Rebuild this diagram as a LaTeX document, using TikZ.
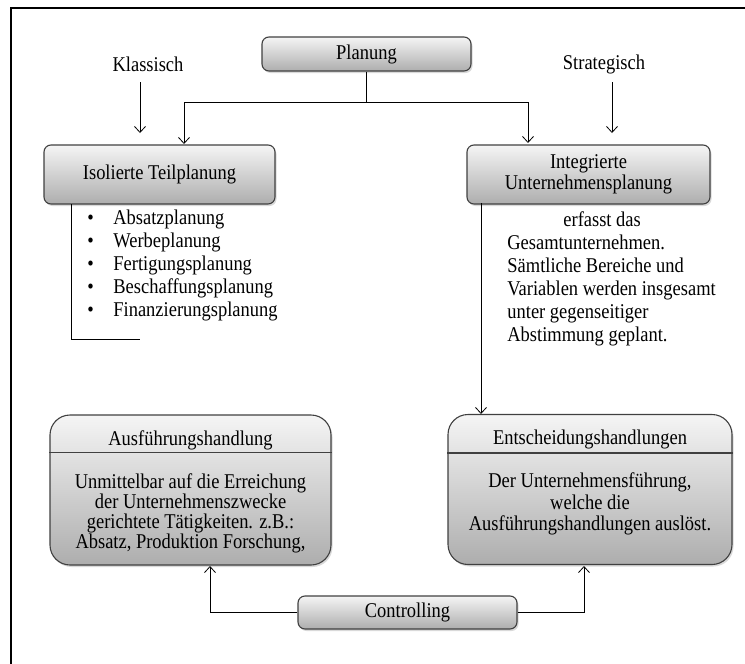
\documentclass[tikz,border=0pt]{standalone}
\usepackage{fontspec}
\setmainfont[FakeStretch=0.88]{Liberation Serif}
\usetikzlibrary{arrows.meta,shadows}

\newcommand{\punkt}{\makebox[26pt][l]{\textbullet}}

\tikzset{
  box/.style={draw=black!75, line width=1.1pt, rounded corners=7pt,
    top color=black!4, bottom color=black!32,
    drop shadow={opacity=0.3, shadow xshift=1.5pt, shadow yshift=-2pt},
    inner sep=0pt, align=center},
  bigbox/.style={box, rounded corners=20pt, minimum height=150pt},
  txt/.style={inner sep=0pt, align=center},
  liste/.style={inner sep=0pt, align=left, anchor=north west},
}

\begin{document}
\begin{tikzpicture}[x=1pt, y=-1pt, line width=0.8pt,
    >={Straight Barb[length=6pt,width=11pt]},
    font=\fontsize{21}{23}\selectfont]
    \useasboundingbox (0,0) rectangle (745,664);
    \draw[line width=2pt] (745,8) -- (11,8) -- (11,664);

    \node[box, minimum width=209pt, minimum height=34pt] (planung) at (366.5,54) {Planung};
    \node[txt] (klass) at (148,64) {Klassisch};
    \node[txt] (strat) at (604,64) {Strategisch};

    \node[box, minimum width=231pt, minimum height=59pt] (teil) at (159.5,174.5) {Isolierte Teilplanung};
    \node[box, minimum width=243pt, minimum height=59pt, font=\fontsize{21}{21}\selectfont] (integ) at (588.5,174.5) {Integrierte\\Unternehmensplanung};

    \node[liste] (teilliste) at (87,210) {\punkt Absatzplanung\\
        \punkt Werbeplanung\\
        \punkt Fertigungsplanung\\
        \punkt Beschaffungsplanung\\
        \punkt Finanzierungsplanung};
    \node[liste] (integtext) at (507,211) {\hspace*{56pt}erfasst das\\Gesamtunternehmen.\\Sämtliche Bereiche und\\Variablen werden insgesamt\\unter gegenseitiger\\Abstimmung geplant.};

    \node[bigbox, minimum width=281pt] (ausf) at (190.5,490) {};
    \node[txt] (ausftitel) at (190.5,440) {Ausführungshandlung};
    \draw[draw=black!75, line width=1.1pt] ([yshift=-38pt]ausf.north west) -- ([yshift=-38pt]ausf.north east);
    \node[txt, font=\fontsize{21}{20}\selectfont] (ausftext) at (190.5,513) {Unmittelbar auf die Erreichung\\der Unternehmenszwecke\\gerichtete Tätigkeiten. z.B.:\\Absatz, Produktion Forschung,};

    \node[bigbox, minimum width=284pt] (ents) at (590,489.5) {};
    \node[txt] (entstitel) at (590,439) {Entscheidungshandlungen};
    \draw[draw=black!75, line width=1.1pt] ([yshift=-39pt]ents.north west) -- ([yshift=-39pt]ents.north east);
    \node[txt, font=\fontsize{21}{21.5}\selectfont] (entstext) at (590,504) {Der Unternehmensführung,\\welche die\\Ausführungshandlungen auslöst.};

    \node[box, minimum width=219pt, minimum height=33pt] (contr) at (407.5,612.5) {Controlling};

    \coordinate (klassab) at (140,82);
    \coordinate (klassan) at (140,133);
    \coordinate (stratab) at (612,82);
    \coordinate (stratan) at (612,133);
    \coordinate (gabel) at (366.5,102);
    \coordinate (teilan) at (184,144);
    \coordinate (integan) at (528,143);
    \coordinate (teilfuss) at (71,204);
    \coordinate (listenende) at (140,339);
    \coordinate (integfuss) at (481,203);
    \coordinate (entsan) at (481,414);
    \coordinate (ausfan) at (210,566);
    \coordinate (entsunten) at (584,566);

    \draw[->] (klassab) to (klassan);
    \draw[->] (stratab) to (stratan);
    \draw (planung) to (gabel);
    \draw[->] (gabel) -| (teilan);
    \draw[->] (gabel) -| (integan);
    \draw (teilfuss) |- (listenende);
    \draw[->] (integfuss) to (entsan);
    \draw[->] (contr.west) -| (ausfan);
    \draw[->] (contr.east) -| (entsunten);
\end{tikzpicture}
\end{document}
